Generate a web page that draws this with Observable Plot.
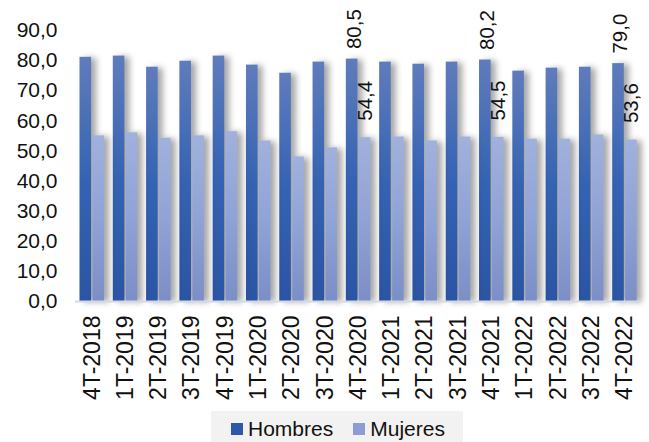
<!DOCTYPE html>
<html>
<head>
<meta charset="utf-8">
<script src="https://cdn.jsdelivr.net/npm/d3@7"></script>
<script src="https://cdn.jsdelivr.net/npm/@observablehq/plot@0.6"></script>
<style>
  body { margin: 0; background: #fff; font-family: "Liberation Sans", Arial, sans-serif; }
  #chart svg { display: block; }
  g[aria-label="bar"] rect { filter: drop-shadow(5px 1px 3px rgba(0,0,0,0.35)); }
  #legend { margin-left: 211px; width: 252px; height: 31px; margin-top: 3px; background: #f2f2f2;
            display: flex; align-items: center; font-size: 21px; color: #111; padding-top: 4px; box-sizing: border-box; }
  .sw { width: 12px; height: 12px; display: inline-block; margin-right: 5px; }
</style>
</head>
<body>
<div id="chart"></div>
<div id="legend">
  <span class="sw" style="margin-left:20px;background:#2f59a8"></span><span>Hombres</span>
  <span class="sw" style="margin-left:20px;background:#8b9dd2"></span><span>Mujeres</span>
</div>
<script>
const quarters = ["4T-2018","1T-2019","2T-2019","3T-2019","4T-2019","1T-2020","2T-2020","3T-2020","4T-2020","1T-2021","2T-2021","3T-2021","4T-2021","1T-2022","2T-2022","3T-2022","4T-2022"];
const hombres = [81.1, 81.5, 77.8, 79.8, 81.5, 78.5, 75.8, 79.5, 80.5, 79.5, 78.8, 79.5, 80.2, 76.5, 77.5, 77.8, 79.0];
const mujeres = [55.0, 56.0, 54.2, 55.0, 56.4, 53.3, 48.0, 51.0, 54.4, 54.6, 53.3, 54.6, 54.5, 53.9, 53.9, 55.3, 53.6];
const labeled = ["4T-2020", "4T-2021", "4T-2022"];
const yTicks = [0, 10, 20, 30, 40, 50, 60, 70, 80, 90];

const rowsH = quarters.map((q, i) => ({q, v: hombres[i]}));
const rowsM = quarters.map((q, i) => ({q, v: mujeres[i]}));
const fmt = d => d.toFixed(1).replace(".", ",");

const chart = Plot.plot({
  width: 649,
  height: 408,
  marginLeft: 75,
  marginRight: 8,
  marginTop: 30,
  marginBottom: 107,
  style: {fontFamily: "Liberation Sans, Arial, sans-serif", color: "#111", background: "transparent"},
  x: {domain: quarters, padding: 0, round: false, label: null},
  y: {domain: [0, 90], label: null},
  marks: [
    Plot.barY(rowsH, {x: "q", y: "v", fill: "url(#gH)", insetLeft: 4.5, insetRight: 17.2}),
    Plot.barY(rowsM, {x: "q", y: "v", fill: "url(#gM)", insetLeft: 17.5, insetRight: 4.3}),
    Plot.ruleY([0], {stroke: "#d3d9e3", strokeWidth: 2}),
    Plot.text(rowsH.filter(d => labeled.includes(d.q)), {x: "q", y: "v", text: d => fmt(d.v), rotate: -90, textAnchor: "start", dx: -4.5, dy: -10, fontSize: 20.5, fill: "#111"}),
    Plot.text(rowsM.filter(d => labeled.includes(d.q)), {x: "q", y: "v", text: d => fmt(d.v), rotate: -90, textAnchor: "start", dx: 7, dy: -17, fontSize: 20.5, fill: "#111"}),
    Plot.axisY({ticks: yTicks, tickFormat: fmt, tickSize: 0, tickPadding: 18, fontSize: 21, label: null}),
    Plot.axisX({tickSize: 0, tickPadding: 14, tickRotate: -90, fontSize: 23, label: null})
  ]
});

const ns = "http://www.w3.org/2000/svg";
const defs = document.createElementNS(ns, "defs");
defs.innerHTML = `
  <linearGradient id="gH" x1="0" y1="0" x2="0" y2="1">
    <stop offset="0" stop-color="#5f7cbc"/>
    <stop offset="0.5" stop-color="#3563b3"/>
    <stop offset="1" stop-color="#2b54a4"/>
  </linearGradient>
  <linearGradient id="gM" x1="0" y1="0" x2="0" y2="1">
    <stop offset="0" stop-color="#a0b1dc"/>
    <stop offset="0.5" stop-color="#90a3d6"/>
    <stop offset="1" stop-color="#7b8ec6"/>
  </linearGradient>`;
chart.insertBefore(defs, chart.firstChild);
document.getElementById("chart").appendChild(chart);
</script>
</body>
</html>
